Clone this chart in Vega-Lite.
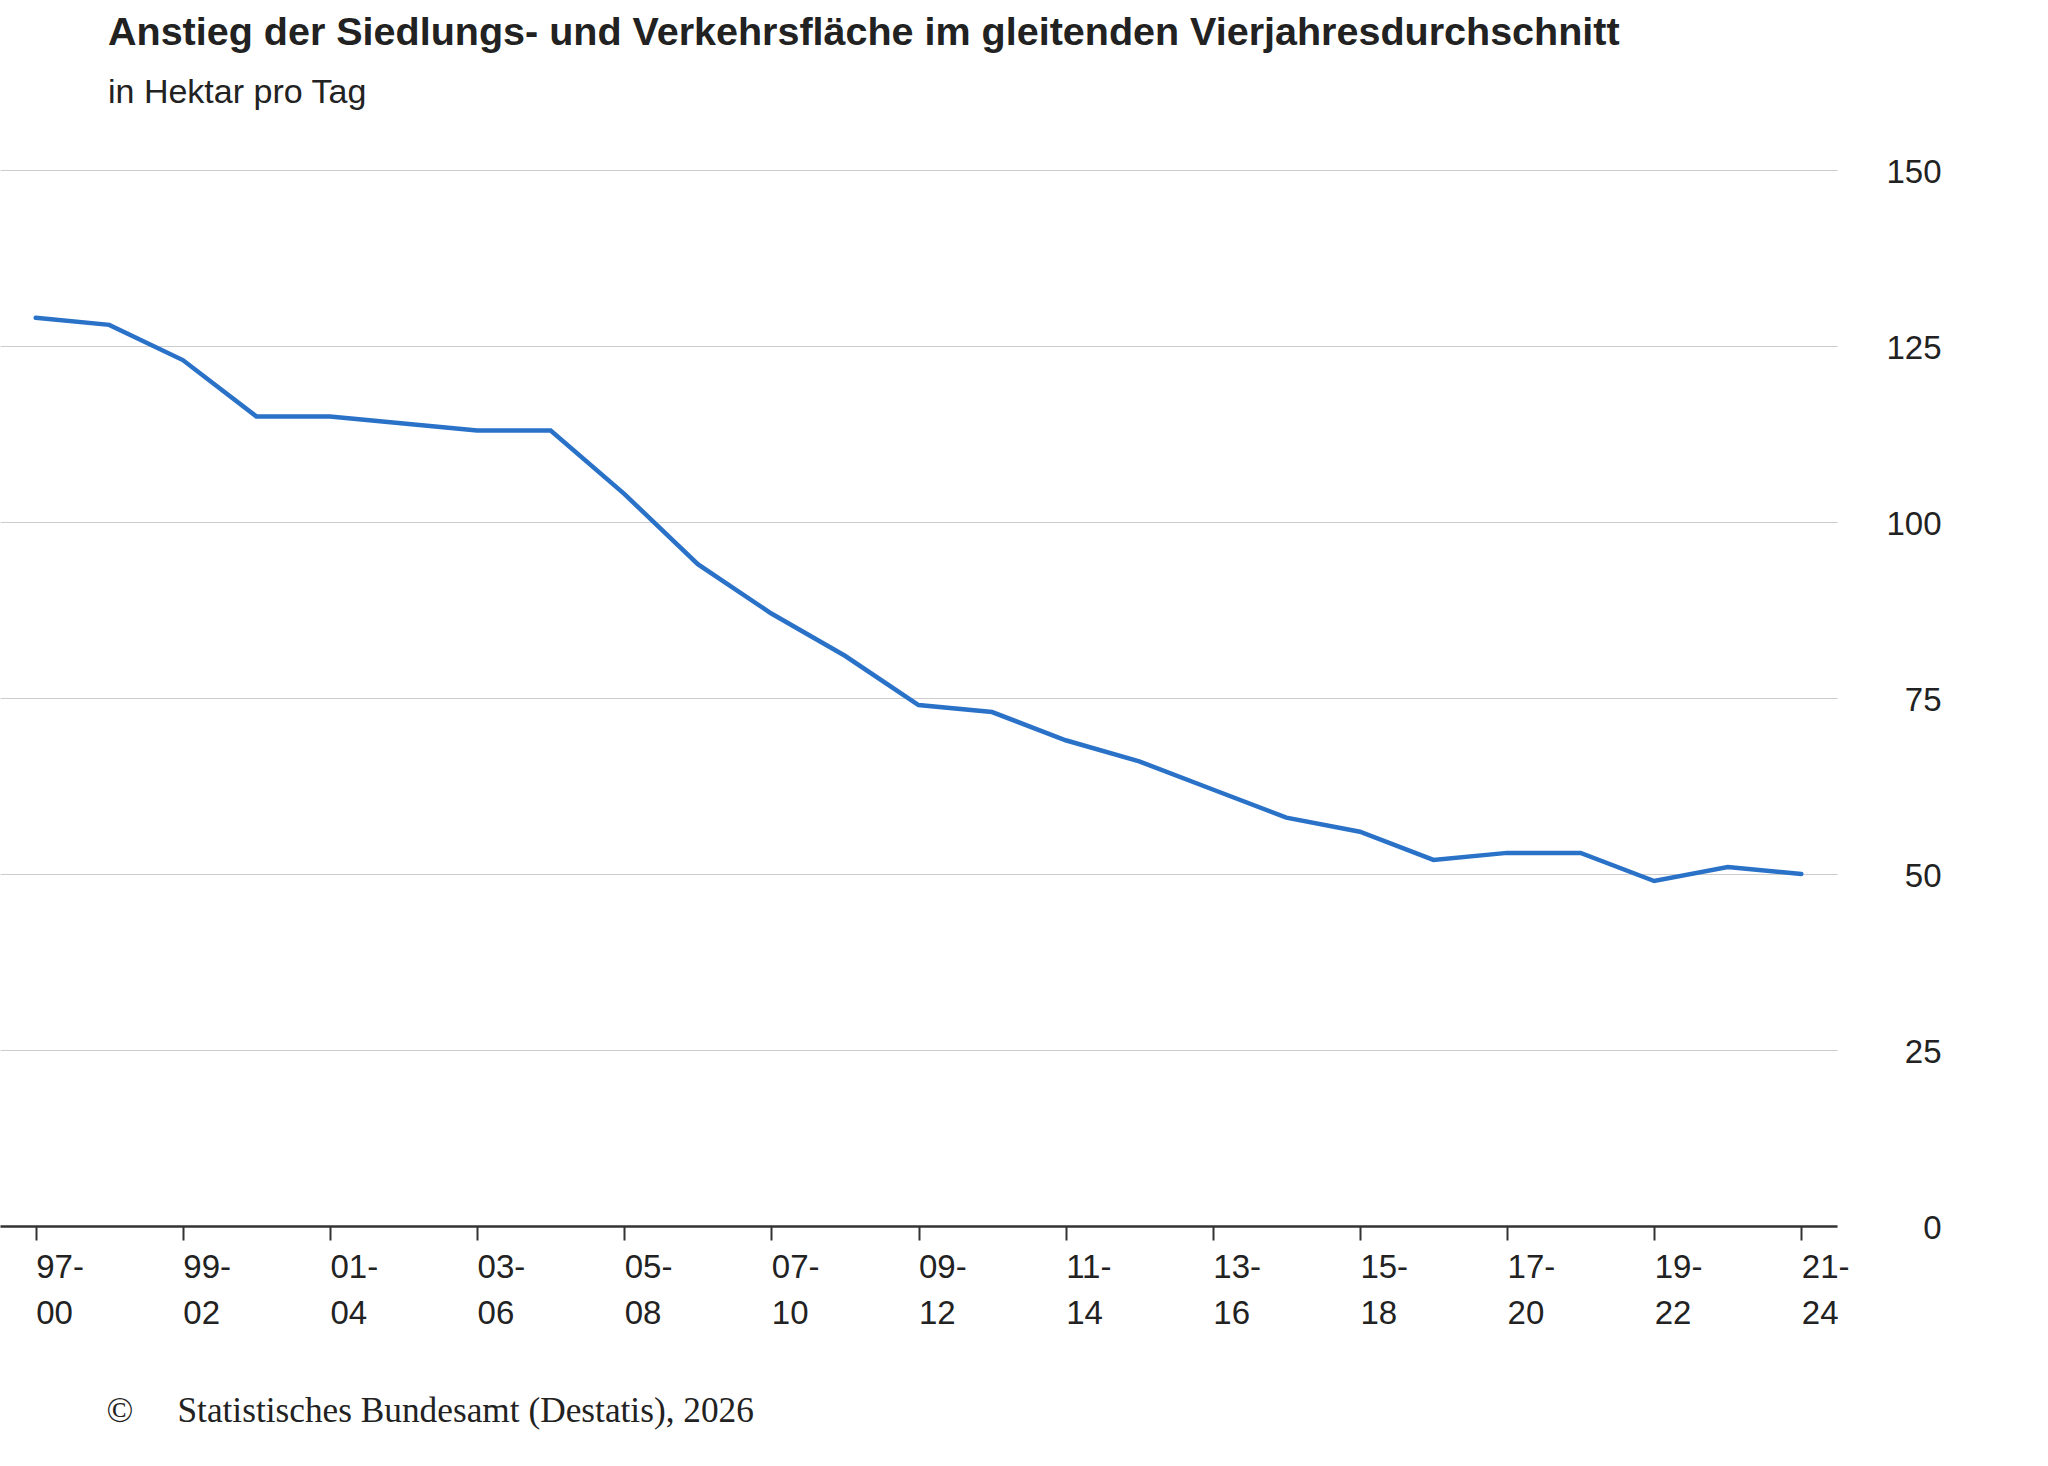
{
  "$schema": "https://vega.github.io/schema/vega-lite/v6.json",
  "width": 1837,
  "height": 1056,
  "autosize": {"type": "none"},
  "padding": {"left": 0, "top": 170, "right": 211, "bottom": 239},
  "background": "white",
  "title": {
    "text": "Anstieg der Siedlungs- und Verkehrsfläche im gleitenden Vierjahresdurchschnitt",
    "subtitle": "in Hektar pro Tag",
    "anchor": "start",
    "frame": "group",
    "dx": 108,
    "offset": 45,
    "font": "Liberation Sans",
    "fontSize": 39.5,
    "fontWeight": "bold",
    "color": "#222222",
    "subtitleFont": "Liberation Sans",
    "subtitleFontSize": 34,
    "subtitleColor": "#222222",
    "subtitlePadding": 23
  },
  "config": {"view": {"stroke": null}},
  "data": {
    "values": [
      {"zeitraum": "97-00", "hektar": 129},
      {"zeitraum": "98-01", "hektar": 128},
      {"zeitraum": "99-02", "hektar": 123},
      {"zeitraum": "00-03", "hektar": 115},
      {"zeitraum": "01-04", "hektar": 115},
      {"zeitraum": "02-05", "hektar": 114},
      {"zeitraum": "03-06", "hektar": 113},
      {"zeitraum": "04-07", "hektar": 113},
      {"zeitraum": "05-08", "hektar": 104},
      {"zeitraum": "06-09", "hektar": 94},
      {"zeitraum": "07-10", "hektar": 87},
      {"zeitraum": "08-11", "hektar": 81},
      {"zeitraum": "09-12", "hektar": 74},
      {"zeitraum": "10-13", "hektar": 73},
      {"zeitraum": "11-14", "hektar": 69},
      {"zeitraum": "12-15", "hektar": 66},
      {"zeitraum": "13-16", "hektar": 62},
      {"zeitraum": "14-17", "hektar": 58},
      {"zeitraum": "15-18", "hektar": 56},
      {"zeitraum": "16-19", "hektar": 52},
      {"zeitraum": "17-20", "hektar": 53},
      {"zeitraum": "18-21", "hektar": 53},
      {"zeitraum": "19-22", "hektar": 49},
      {"zeitraum": "20-23", "hektar": 51},
      {"zeitraum": "21-24", "hektar": 50}
    ]
  },
  "mark": {
    "type": "line",
    "color": "#2a71c8",
    "strokeWidth": 4.5,
    "strokeCap": "round",
    "strokeJoin": "miter"
  },
  "encoding": {
    "x": {
      "field": "zeitraum",
      "type": "ordinal",
      "sort": null,
      "scale": {"type": "point", "padding": 0.485},
      "axis": {
        "values": ["97-00", "99-02", "01-04", "03-06", "05-08", "07-10", "09-12", "11-14", "13-16", "15-18", "17-20", "19-22", "21-24"],
        "title": "©\u00a0\u00a0\u00a0\u00a0\u00a0Statistisches Bundesamt (Destatis), 2026",
        "labelExpr": "[slice(datum.label, 0, 3), slice(datum.label, 3)]",
        "labelAlign": "left",
        "labelBaseline": "top",
        "labelAngle": 0,
        "labelFont": "Liberation Sans",
        "labelFontSize": 33,
        "labelLineHeight": 46,
        "labelColor": "#222222",
        "labelPadding": 11,
        "labelOverlap": false,
        "labelFlush": false,
        "labelBound": false,
        "tickSize": 14,
        "tickColor": "#333333",
        "tickWidth": 2,
        "domainColor": "#333333",
        "domainWidth": 2.5,
        "grid": false,
        "titleFont": "Liberation Serif",
        "titleFontSize": 35.3,
        "titleFontWeight": "normal",
        "titleColor": "#222222",
        "titleAnchor": "start",
        "titleAlign": "left",
        "titleBaseline": "alphabetic",
        "titleX": 106,
        "titleY": 195
      }
    },
    "y": {
      "field": "hektar",
      "type": "quantitative",
      "scale": {"domain": [0, 150]},
      "axis": {
        "orient": "right",
        "values": [0, 25, 50, 75, 100, 125, 150],
        "title": null,
        "domain": false,
        "ticks": false,
        "tickSize": 0,
        "labelPadding": 104,
        "labelAlign": "right",
        "labelOffset": 2,
        "labelFont": "Liberation Sans",
        "labelFontSize": 33,
        "labelColor": "#222222",
        "gridColor": "#cccccc",
        "gridWidth": 1
      }
    }
  }
}
